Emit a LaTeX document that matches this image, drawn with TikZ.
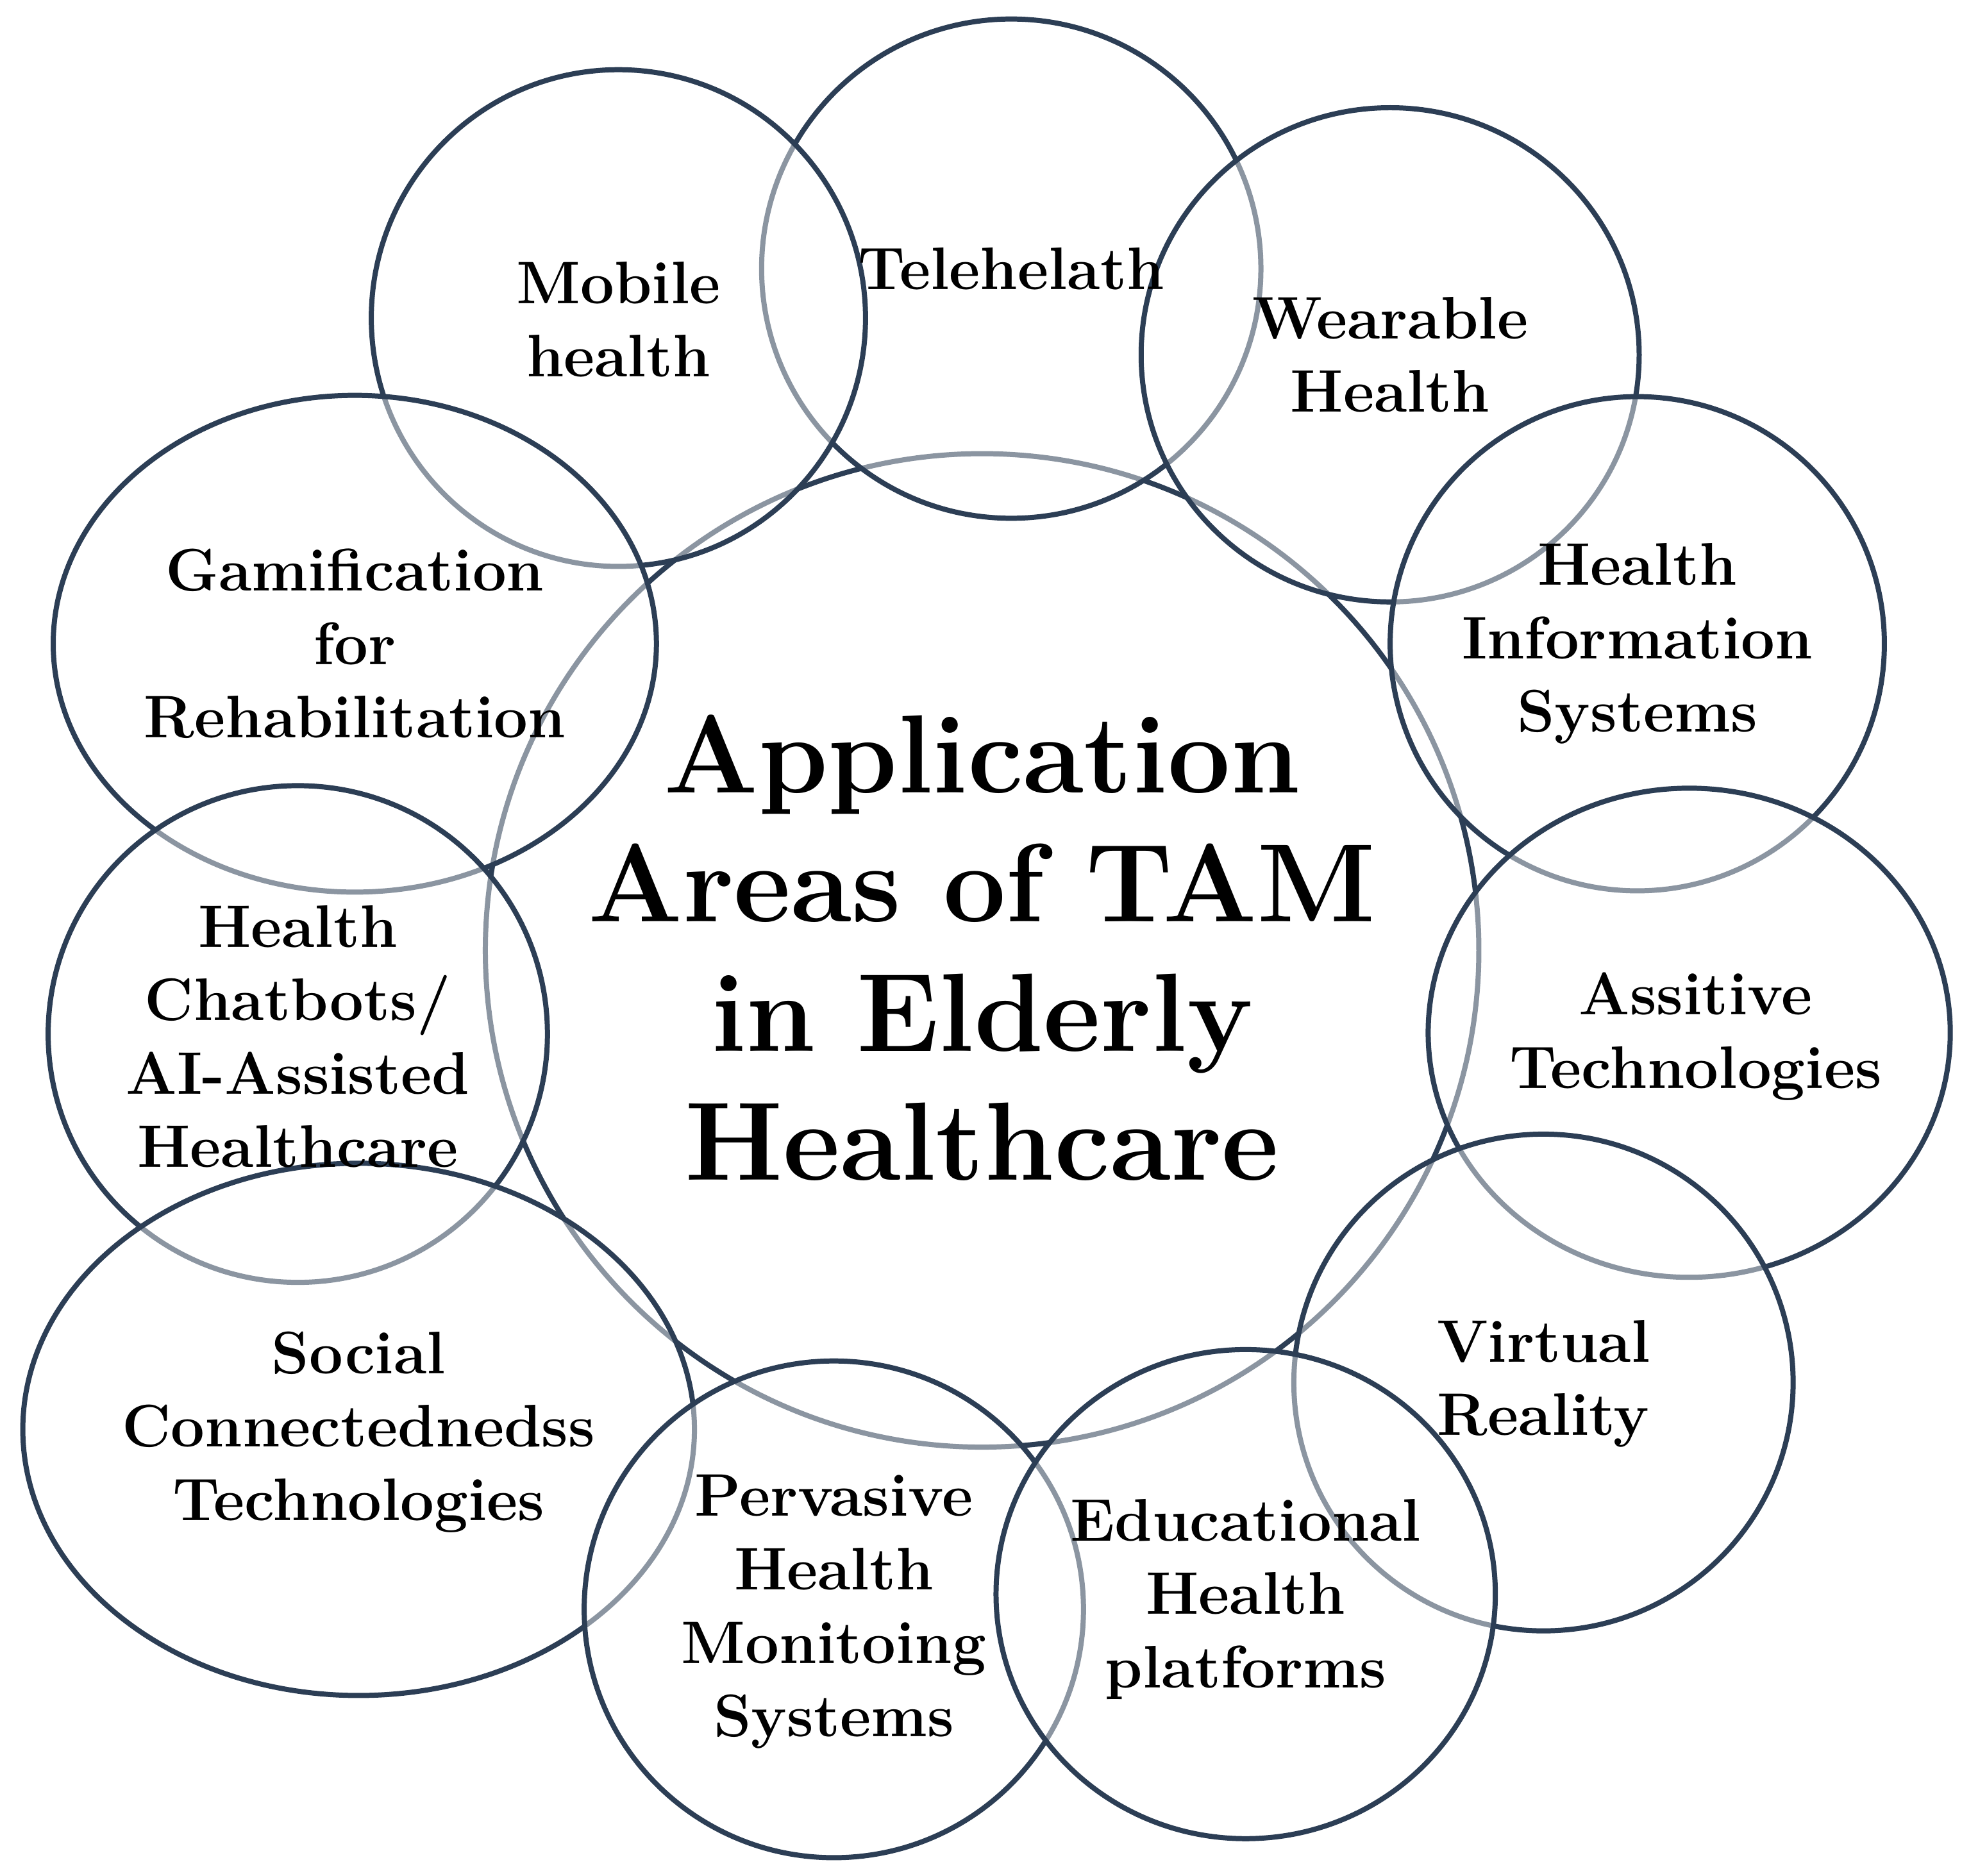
\documentclass[tikz,border=0pt]{standalone}
\usetikzlibrary{shapes.geometric}
\definecolor{ring}{HTML}{2C3E55}
\begin{document}
\begin{tikzpicture}[x=0.02cm,y=-0.02cm,
  ring/.style={ellipse,draw=ring,line width=2.3pt,fill=white,fill opacity=0.45,inner sep=0pt},
  lab/.style={align=center,font=\fontsize{27}{33}\selectfont\bfseries,text=black},
  big/.style={align=center,font=\fontsize{50}{58}\selectfont\bfseries,text=black}]
\useasboundingbox (0,0) rectangle (1568,1480);
\node[ring,minimum width=784*0.02cm,minimum height=784*0.02cm] (core) at (775,750) {};
\node[ring,minimum width=394*0.02cm,minimum height=394*0.02cm] (tele) at (798,212) {};
\node[ring,minimum width=390*0.02cm,minimum height=392*0.02cm] (mob) at (488,251) {};
\node[ring,minimum width=393*0.02cm,minimum height=390*0.02cm] (wear) at (1097,280) {};
\node[ring,minimum width=476*0.02cm,minimum height=392*0.02cm] (gam) at (280,508) {};
\node[ring,minimum width=390*0.02cm,minimum height=390*0.02cm] (his) at (1292,508) {};
\node[ring,minimum width=394*0.02cm,minimum height=392*0.02cm] (chat) at (235,816) {};
\node[ring,minimum width=412*0.02cm,minimum height=386*0.02cm] (assist) at (1333,815) {};
\node[ring,minimum width=530*0.02cm,minimum height=420*0.02cm] (soc) at (283,1128) {};
\node[ring,minimum width=394*0.02cm,minimum height=392*0.02cm] (vr) at (1218,1091) {};
\node[ring,minimum width=394*0.02cm,minimum height=392*0.02cm] (perv) at (658,1270) {};
\node[ring,minimum width=394*0.02cm,minimum height=386*0.02cm] (edu) at (983,1258) {};
\node[big] (t0) at (775,748) {Application\\Areas of TAM\\in Elderly\\Healthcare};
\node[lab] (t1) at (488,252) {Mobile\\health};
\node[lab] (t2) at (798,212) {Telehelath};
\node[lab] (t3) at (1097,280) {Wearable\\Health};
\node[lab] (t4) at (1292,508) {Health\\Information\\Systems};
\node[lab] (t5) at (1338,818) {Assitive\\Technologies};
\node[lab] (t6) at (1218,1092) {Virtual\\Reality};
\node[lab] (t7) at (983,1262) {Educational\\Health\\platforms};
\node[lab] (t8) at (658,1272) {Pervasive\\Health\\Monitoing\\Systems};
\node[lab] (t9) at (283,1130) {Social\\Connectednedss\\Technologies};
\node[lab] (t10) at (235,818) {Health\\Chatbots/\\AI-Assisted\\Healthcare};
\node[lab] (t11) at (280,508) {Gamification\\for\\Rehabilitation};
\end{tikzpicture}
\end{document}
